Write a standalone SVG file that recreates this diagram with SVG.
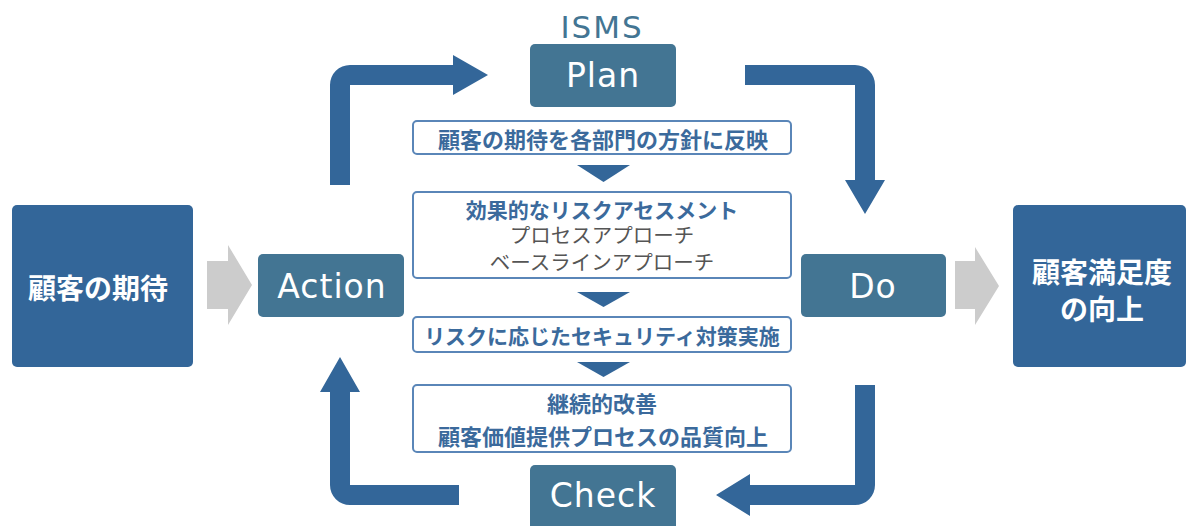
<svg xmlns="http://www.w3.org/2000/svg" width="1188" height="526" viewBox="0 0 1188 526">
<style>
.big{fill:#336699}
.pdca{fill:#437593}
.step{fill:#ffffff;stroke:#5a86b8;stroke-width:2}
.flow{fill:#336699}
.gray{fill:#cccccc}
.tri{fill:#336699}
.en{font-family:"DejaVu Sans",sans-serif;font-size:33px;fill:#ffffff;text-anchor:middle;dominant-baseline:central;letter-spacing:1px}
.jw{font-family:"Noto Sans CJK JP",sans-serif;font-weight:bold;font-size:28px;fill:#ffffff;text-anchor:middle;dominant-baseline:central}
.jb{font-family:"Noto Sans CJK JP",sans-serif;font-weight:bold;font-size:21px;fill:#3b6a9c;text-anchor:middle;dominant-baseline:central}
.jg{font-family:"Noto Sans CJK JP",sans-serif;font-size:20.5px;fill:#555555;text-anchor:middle}
</style>
<rect width="1188" height="526" fill="#ffffff"/>
<g id="connectors">
<path class="flow" d="M330,185 V85 A20,20 0 0 1 350,65 H453 V55 L488,75 L453,95 V85 H350 V185 Z"/>
<path class="flow" d="M745,65 H855 A20,20 0 0 1 875,85 V180 H885 L865,214 L845,180 H855 V85 H745 Z"/>
<path class="flow" d="M855,385 H875 V485 A20,20 0 0 1 855,505 H750 V516 L716,495 L750,474 V485 H855 Z"/>
<path class="flow" d="M459,485 V505 H350 A20,20 0 0 1 330,485 V392 H320 L340,357 L360,392 H350 V485 Z"/>
<polygon class="gray" points="207,261 228,261 228,245 252,285 228,325 228,309 207,309"/>
<polygon class="gray" points="955,261 975,261 975,247 999,286 975,325 975,309 955,309"/>
<polygon class="tri" points="577,165 630,165 603.5,182"/>
<polygon class="tri" points="577,292 630,292 603.5,307"/>
<polygon class="tri" points="577,362 630,362 603.5,377"/>
</g>
<g id="isms-title">
<text x="602" y="27" style="font-family:'DejaVu Sans',sans-serif;font-size:31px;fill:#437593;text-anchor:middle;dominant-baseline:central;letter-spacing:2px">ISMS</text>
</g>
<g id="customer-expectation">
<rect class="big" x="12" y="205" width="181" height="162" rx="5"/>
<text class="jw" x="98" y="287">顧客の期待</text>
</g>
<g id="customer-satisfaction">
<rect class="big" x="1013" y="205" width="173" height="162" rx="5"/>
<text class="jw" x="1102" y="271">顧客満足度</text>
<text class="jw" x="1102" y="308">の向上</text>
</g>
<g id="plan">
<rect class="pdca" x="530" y="44" width="146" height="63" rx="5"/>
<text class="en" x="603" y="75">Plan</text>
</g>
<g id="do">
<rect class="pdca" x="801" y="254" width="145" height="63" rx="5"/>
<text class="en" x="873" y="286">Do</text>
</g>
<g id="check">
<rect class="pdca" x="530" y="465" width="146" height="66" rx="5"/>
<text class="en" x="603" y="495">Check</text>
</g>
<g id="action">
<rect class="pdca" x="258" y="254" width="146" height="63" rx="5"/>
<text class="en" x="332" y="286">Action</text>
</g>
<g id="step1">
<rect class="step" x="413" y="121" width="378" height="33" rx="4"/>
<text class="jb" x="603" y="138" style="font-size:22px">顧客の期待を各部門の方針に反映</text>
</g>
<g id="step2">
<rect class="step" x="413" y="192" width="378" height="86" rx="4"/>
<text class="jb" x="602" y="209">効果的なリスクアセスメント</text>
<text class="jg" x="602" y="243"><tspan x="602" y="243">プロセスアプローチ</tspan><tspan x="602" y="269.5">ベースラインアプローチ</tspan></text>
</g>
<g id="step3">
<rect class="step" x="413" y="317" width="378" height="35" rx="4"/>
<text class="jb" x="602" y="334.5">リスクに応じたセキュリティ対策実施</text>
</g>
<g id="step4">
<rect class="step" x="413" y="385" width="378" height="67" rx="4"/>
<text class="jb" x="602" y="402" style="font-size:22px">継続的改善</text>
<text class="jb" x="603" y="435" style="font-size:22px">顧客価値提供プロセスの品質向上</text>
</g>
</svg>
